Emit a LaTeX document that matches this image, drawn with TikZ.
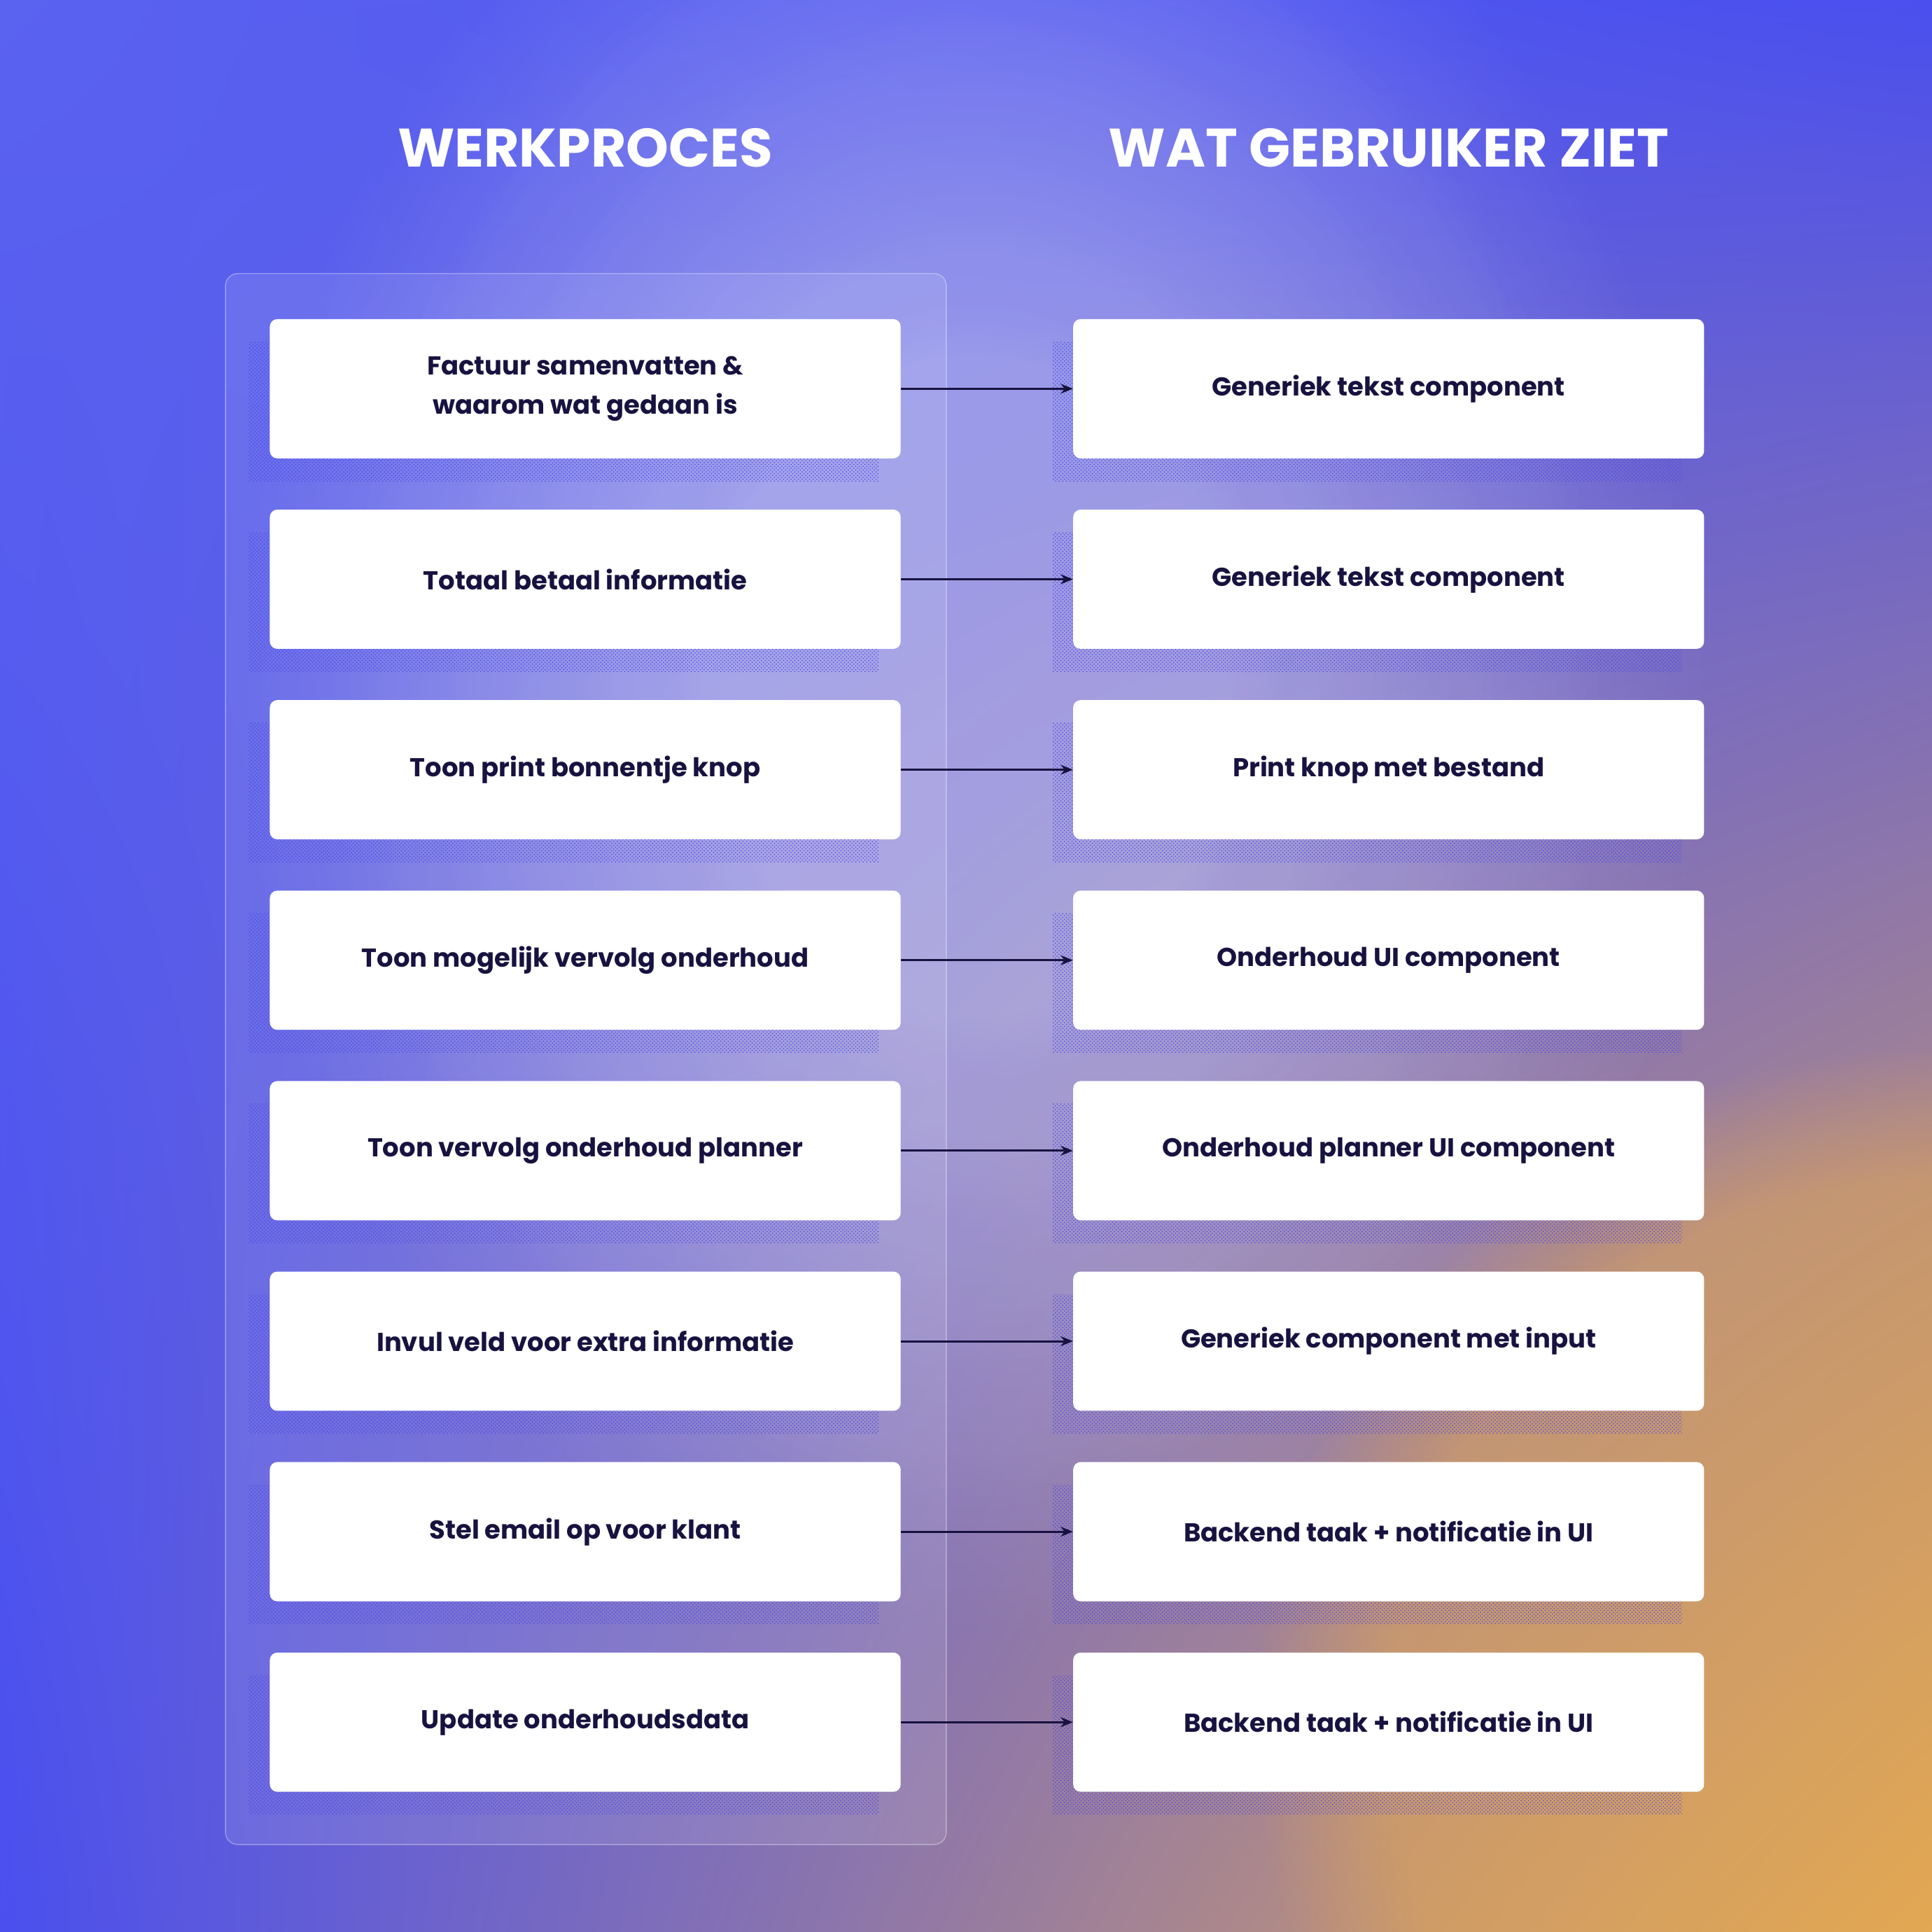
\documentclass[tikz,border=0pt]{standalone}
\usepackage{fontspec}
\setmainfont{Poppins}
\usetikzlibrary{patterns,fadings,arrows.meta,shadings}
\definecolor{bgblue}{HTML}{4A4FEE}
\definecolor{bgblue2}{HTML}{5A62F0}
\definecolor{bgorange}{HTML}{E3A853}
\definecolor{ink}{HTML}{17123F}
\definecolor{dots}{HTML}{4B46E6}
\tikzset{
  card/.style={fill=white,rounded corners=6pt,minimum width=512pt,minimum height=113pt,inner sep=0pt,
    font=\fontsize{21}{32}\selectfont\bfseries,text=ink,align=center},
  conn/.style={draw=ink,line width=1.7pt,-{Stealth[length=10pt,width=8pt]}},
  title/.style={text=white,font=\fontsize{44}{50}\selectfont\bfseries},
  glow/.style={white,opacity=0.09,path fading=circle with fuzzy edge 20 percent}
}
\begin{document}
\begin{tikzpicture}[x=1pt,y=-1pt]
\useasboundingbox (0,0) rectangle (1568,1568);
\shade[upper left=bgblue2,upper right=bgblue,lower left=bgblue,lower right=bgorange] (0,0) rectangle (1568,1568);
\foreach \r in {300,400,500,600,700}{
  \fill[glow] (790,560) ellipse (\r*0.85 and \r*1.1);
}
\fill[bgorange,opacity=0.5,path fading=circle with fuzzy edge 20 percent] (1568,1400) circle (550);
\node[title] (t1) at (475,120) {WERKPROCES};
\node[title] (t2) at (1127,120) {WAT GEBRUIKER ZIET};
\draw[white,draw opacity=0.35,fill=white,fill opacity=0.1,rounded corners=10pt,line width=0.8pt] (183,222) rectangle (768,1497);
\foreach \i/\a/\b in {
 0/{Factuur samenvatten \&\\waarom wat gedaan is}/{Generiek tekst component},
 1/{Totaal betaal informatie}/{Generiek tekst component},
 2/{Toon print bonnentje knop}/{Print knop met bestand},
 3/{Toon mogelijk vervolg onderhoud}/{Onderhoud UI component},
 4/{Toon vervolg onderhoud planner}/{Onderhoud planner UI component},
 5/{Invul veld voor extra informatie}/{Generiek component met input},
 6/{Stel email op voor klant}/{Backend taak + notificatie in UI},
 7/{Update onderhoudsdata}/{Backend taak + notificatie in UI}}{
  \pgfmathsetmacro\yc{315.5+154.6*\i}
  \fill[pattern=crosshatch dots,pattern color=dots] (202,\yc-38) rectangle (713,\yc+75);
  \fill[pattern=crosshatch dots,pattern color=dots] (854,\yc-38) rectangle (1365,\yc+75);
  \node[card] (L\i) at (475,\yc) {\a};
  \node[card] (R\i) at (1127,\yc) {\b};
  \draw[conn] (L\i.east) -- (R\i.west);
}
\end{tikzpicture}
\end{document}
